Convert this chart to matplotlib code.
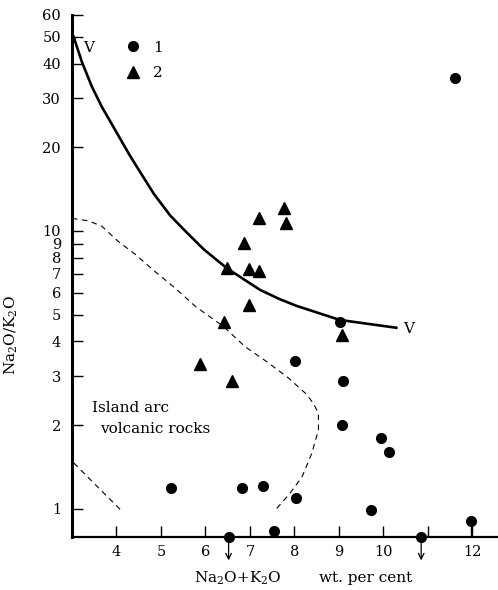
import matplotlib
matplotlib.use("Agg")
import matplotlib.pyplot as plt
from matplotlib.lines import Line2D

plt.rcParams['font.family'] = ['DejaVu Serif']
plt.rcParams['mathtext.fontset'] = 'dejavuserif'

# group 1 (circles)
circ_x = [11.62, 9.02, 8.01, 9.10, 9.08, 9.94, 10.12, 5.23, 6.82, 7.30, 8.03, 9.72, 11.97, 7.53]
circ_y = [35.6, 4.71, 3.41, 2.88, 2.0, 1.80, 1.60, 1.19, 1.19, 1.21, 1.09, 0.99, 0.905, 0.83]
# below the plotted range (drawn on the axis with arrows)
low_x = [6.52, 10.85]
low_y = [0.79, 0.79]

# group 2 (triangles)
tri_x = [7.77, 7.20, 7.80, 6.87, 6.48, 6.98, 7.21, 6.98, 6.41, 9.08, 5.87, 6.59]
tri_y = [12.07, 11.1, 10.7, 9.03, 7.38, 7.28, 7.2, 5.41, 4.69, 4.22, 3.31, 2.88]

# boundary V
v_x = [3.035, 3.22, 3.446, 3.67, 3.97, 4.27, 4.46, 4.84, 5.21, 5.585, 5.96, 6.48,
       7.23, 7.68, 8.05, 9.02, 10.29]
v_y = [50.1, 40.7, 33.1, 28.0, 23.1, 19.05, 17.0, 13.6, 11.35, 9.85, 8.59, 7.34,
       6.13, 5.67, 5.37, 4.78, 4.48]

# island arc field (dashed)
arc_x = [3.0, 3.37, 3.67, 4.045, 4.42, 4.87, 5.32, 5.78, 6.41, 6.89, 7.38, 7.87,
         8.25, 8.43, 8.54, 8.54, 8.39, 8.17, 7.90, 7.60]
arc_y = [11.1, 10.87, 10.4, 9.15, 8.24, 7.13, 6.22, 5.34, 4.52, 3.83, 3.38, 2.95,
         2.60, 2.39, 2.20, 1.92, 1.58, 1.30, 1.135, 1.0]
arc2_x = [3.04, 3.57, 4.09]
arc2_y = [1.46, 1.2, 0.99]

yticks = [1, 2, 3, 4, 5, 6, 7, 8, 9, 10, 20, 30, 40, 50, 60]
xticks = [4, 5, 6, 7, 8, 9, 10, 11, 12]
xticklabels = ['4', '5', '6', '7', '8', '9', '10', '', '12']

fig = plt.figure(figsize=(4.98, 5.90), dpi=100)
ax = fig.add_axes([0.1446, 0.0898, 0.853, 0.885])

ax.set_yscale('log')
ax.set_xlim(3, 12.55)
ax.set_ylim(0.79, 60)

ax.plot(v_x, v_y, color='black', lw=1.9, solid_joinstyle='round')
ax.plot(arc_x, arc_y, color='black', lw=0.8, ls=(0, (5, 4)))
ax.plot(arc2_x, arc2_y, color='black', lw=0.8, ls=(0, (5, 4)))

ax.plot(circ_x, circ_y, 'o', color='black', ms=7, clip_on=False)
ax.plot(low_x, low_y, 'o', color='black', ms=7, clip_on=False, zorder=5)
ax.plot(tri_x, tri_y, '^', color='black', ms=8, clip_on=False)

# stem below the point at 12
ax.vlines(circ_x[12], 0.79, circ_y[12], color='black', lw=1)
for x in low_x:
    ax.annotate('', xy=(x, -0.05), xycoords=('data', 'axes fraction'),
                xytext=(x, -0.005), textcoords=('data', 'axes fraction'),
                arrowprops=dict(arrowstyle='->', lw=0.9, color='black'))

ax.text(3.37, 45.6, 'V', fontsize=11, ha='center', va='center')
ax.text(10.45, 4.44, 'V', fontsize=11, ha='left', va='center')
ax.text(3.46, 2.30, 'Island arc', fontsize=11, ha='left', va='center')
ax.text(3.64, 1.94, 'volcanic rocks', fontsize=11, ha='left', va='center')

handles = [Line2D([], [], marker='o', ls='', color='black', ms=7),
           Line2D([], [], marker='^', ls='', color='black', ms=8)]
ax.legend(handles, ['1', '2'], loc='center left', bbox_to_anchor=(0.075, 0.913),
          frameon=False, fontsize=11, handletextpad=0.3, labelspacing=0.75)

ax.set_yticks(yticks)
ax.set_yticklabels([str(t) for t in yticks])
ax.yaxis.set_minor_locator(matplotlib.ticker.NullLocator())
ax.set_xticks(xticks)
ax.set_xticklabels(xticklabels)
ax.tick_params(direction='in', length=8, width=1, labelsize=10.5, colors='black')
ax.tick_params(axis='y', pad=8)
ax.tick_params(axis='x', pad=6)

ax.spines['top'].set_visible(False)
ax.spines['right'].set_visible(False)
ax.spines['left'].set_linewidth(2.2)
ax.spines['bottom'].set_linewidth(1.6)

ax.set_ylabel('Na$_2$O/K$_2$O', fontsize=11)
ax.yaxis.set_label_coords(-0.122, 0.387)
ax.text(0.39, -0.079, 'Na$_2$O+K$_2$O', transform=ax.transAxes, fontsize=11, ha='center', va='center')
ax.text(0.692, -0.079, 'wt. per cent', transform=ax.transAxes, fontsize=11, ha='center', va='center')

fig.savefig('out.png', dpi=100)
